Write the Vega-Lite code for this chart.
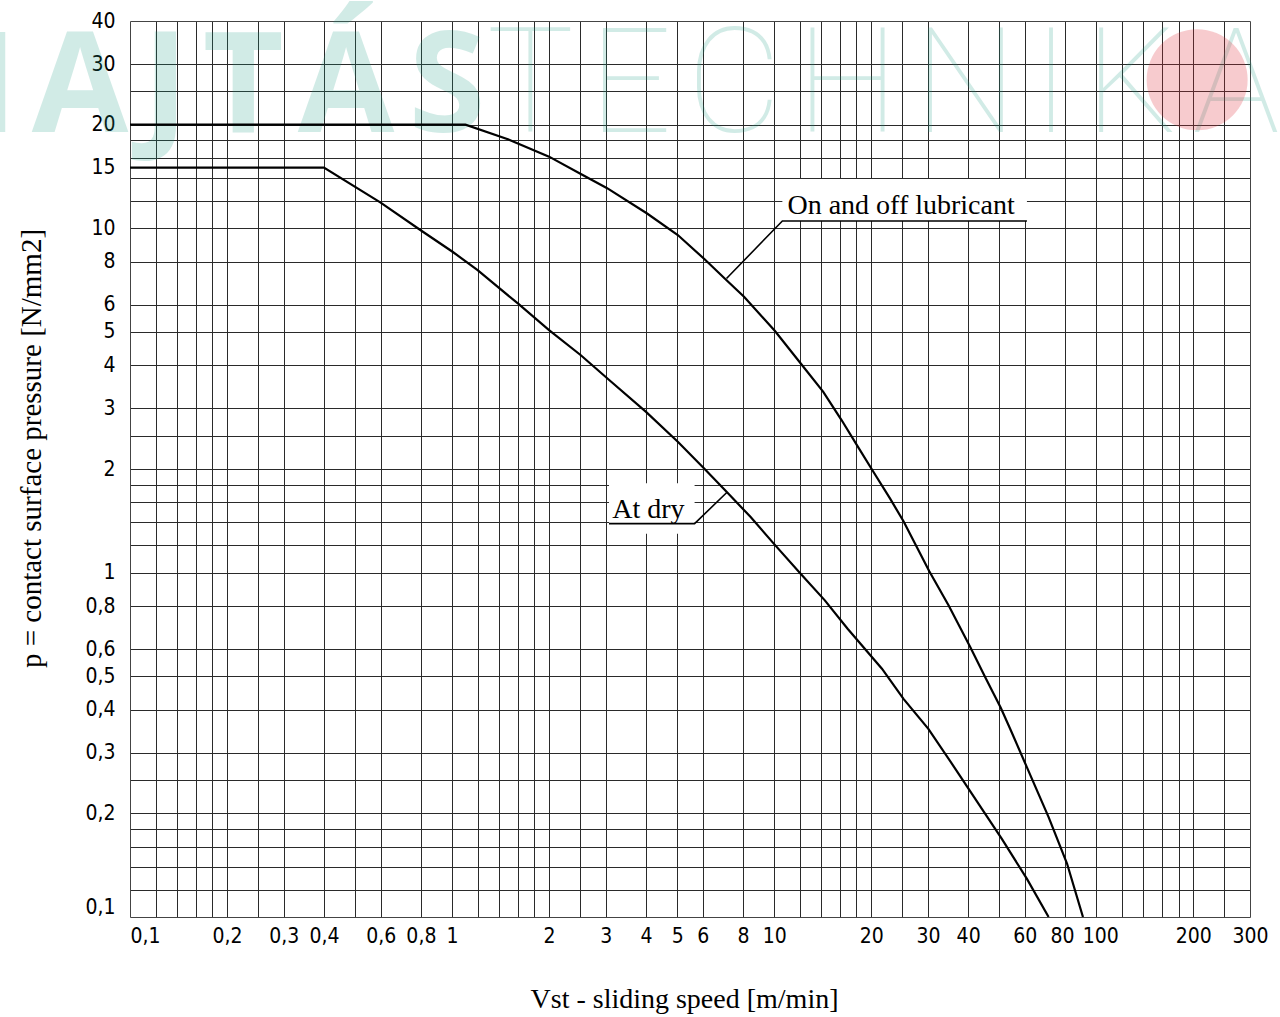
{
  "$schema": "https://vega.github.io/schema/vega-lite/v6.json",
  "width": 1120,
  "height": 896,
  "autosize": "none",
  "padding": {"left": 130, "top": 21, "right": 30, "bottom": 100},
  "background": "white",
  "config": {
    "view": {"stroke": null},
    "axis": {
      "labelFont": "DejaVu Sans Condensed",
      "labelFontSize": 21,
      "labelColor": "black",
      "titleFont": "Liberation Serif",
      "titleFontWeight": "normal",
      "titleColor": "black",
      "domainColor": "#444",
      "gridColor": "#2a2a2a",
      "gridWidth": 1,
      "gridOpacity": 1
    }
  },
  "layer": [
    {
      "data": {"values": [{"t": "H\u200aA\u200aJ\u200aT\u200aÁ\u200aS", "v": 1.27, "p": 19.1}]},
      "mark": {"type": "text", "font": "Open Sans", "fontWeight": "bold", "fontSize": 140, "align": "right", "baseline": "alphabetic", "color": "#1f9e86", "opacity": 0.2},
      "encoding": {
        "x": {"field": "v", "type": "quantitative", "scale": {"type": "log", "domain": [0.1, 300], "nice": false}, "axis": null},
        "y": {"field": "p", "type": "quantitative", "scale": {"type": "log", "domain": [0.1, 40], "nice": false}, "axis": null},
        "text": {"field": "t"}
      }
    },
    {
      "data": {"values": [{"t": "T\u200aE\u200aC\u200aH\u200aN\u200aI\u200aK\u200aA", "v": 1.28, "p": 19.1}]},
      "mark": {"type": "text", "font": "Roboto", "fontWeight": 100, "fontSize": 146, "align": "left", "baseline": "alphabetic", "color": "#1f9e86", "opacity": 0.2},
      "encoding": {
        "x": {"field": "v", "type": "quantitative", "scale": {"type": "log", "domain": [0.1, 300], "nice": false}, "axis": null},
        "y": {"field": "p", "type": "quantitative", "scale": {"type": "log", "domain": [0.1, 40], "nice": false}, "axis": null},
        "text": {"field": "t"}
      }
    },
    {
      "data": {"values": [{"v": 205.6, "p": 27.0}]},
      "mark": {"type": "point", "shape": "circle", "filled": true, "size": 10200, "color": "#e0303a", "opacity": 0.25},
      "encoding": {
        "x": {"field": "v", "type": "quantitative", "scale": {"type": "log", "domain": [0.1, 300], "nice": false}, "axis": null},
        "y": {"field": "p", "type": "quantitative", "scale": {"type": "log", "domain": [0.1, 40], "nice": false}, "axis": null}
      }
    },
    {
      "data": {"values": [
        {"s": "On and off lubricant", "v": 0.1, "p": 20},
        {"s": "On and off lubricant", "v": 1.1, "p": 20},
        {"s": "On and off lubricant", "v": 1.49, "p": 18.15},
        {"s": "On and off lubricant", "v": 2.0, "p": 16.15},
        {"s": "On and off lubricant", "v": 2.51, "p": 14.38},
        {"s": "On and off lubricant", "v": 3.02, "p": 13.1},
        {"s": "On and off lubricant", "v": 4.02, "p": 11.06},
        {"s": "On and off lubricant", "v": 5.02, "p": 9.56},
        {"s": "On and off lubricant", "v": 6.08, "p": 8.13},
        {"s": "On and off lubricant", "v": 7.1, "p": 7.08},
        {"s": "On and off lubricant", "v": 8.06, "p": 6.33},
        {"s": "On and off lubricant", "v": 10.04, "p": 5.04},
        {"s": "On and off lubricant", "v": 12.09, "p": 4.05},
        {"s": "On and off lubricant", "v": 14.2, "p": 3.35},
        {"s": "On and off lubricant", "v": 16.2, "p": 2.77},
        {"s": "On and off lubricant", "v": 18.2, "p": 2.32},
        {"s": "On and off lubricant", "v": 20.2, "p": 1.98},
        {"s": "On and off lubricant", "v": 22.9, "p": 1.64},
        {"s": "On and off lubricant", "v": 25.2, "p": 1.41},
        {"s": "On and off lubricant", "v": 30.3, "p": 1.01},
        {"s": "On and off lubricant", "v": 34.8, "p": 0.803},
        {"s": "On and off lubricant", "v": 40.6, "p": 0.608},
        {"s": "On and off lubricant", "v": 45.2, "p": 0.497},
        {"s": "On and off lubricant", "v": 50.5, "p": 0.405},
        {"s": "On and off lubricant", "v": 54, "p": 0.352},
        {"s": "On and off lubricant", "v": 60.9, "p": 0.272},
        {"s": "On and off lubricant", "v": 71.1, "p": 0.195},
        {"s": "On and off lubricant", "v": 81.1, "p": 0.143},
        {"s": "On and off lubricant", "v": 90.9, "p": 0.1},
        {"s": "At dry", "v": 0.1, "p": 15},
        {"s": "At dry", "v": 0.4, "p": 15},
        {"s": "At dry", "v": 0.6, "p": 11.87},
        {"s": "At dry", "v": 0.803, "p": 9.84},
        {"s": "At dry", "v": 1.003, "p": 8.55},
        {"s": "At dry", "v": 1.2, "p": 7.56},
        {"s": "At dry", "v": 1.6, "p": 6.05},
        {"s": "At dry", "v": 2.0, "p": 5.06},
        {"s": "At dry", "v": 2.51, "p": 4.28},
        {"s": "At dry", "v": 3.08, "p": 3.62},
        {"s": "At dry", "v": 4.0, "p": 2.93},
        {"s": "At dry", "v": 5.02, "p": 2.4},
        {"s": "At dry", "v": 6.05, "p": 2.01},
        {"s": "At dry", "v": 7.15, "p": 1.71},
        {"s": "At dry", "v": 8.45, "p": 1.45},
        {"s": "At dry", "v": 10.0, "p": 1.21},
        {"s": "At dry", "v": 12.0, "p": 1.0},
        {"s": "At dry", "v": 14.36, "p": 0.831},
        {"s": "At dry", "v": 16.9, "p": 0.687},
        {"s": "At dry", "v": 21.6, "p": 0.526},
        {"s": "At dry", "v": 25.2, "p": 0.43},
        {"s": "At dry", "v": 30.1, "p": 0.352},
        {"s": "At dry", "v": 35.6, "p": 0.279},
        {"s": "At dry", "v": 50.9, "p": 0.1686},
        {"s": "At dry", "v": 60.9, "p": 0.129},
        {"s": "At dry", "v": 71.1, "p": 0.1}
      ]},
      "mark": {"type": "line", "color": "black", "strokeWidth": 2.2, "clip": true},
      "encoding": {
        "x": {"field": "v", "type": "quantitative", "scale": {"type": "log", "domain": [0.1, 300], "nice": false},
          "axis": {"orient": "top", "title": null, "labels": false, "ticks": false, "grid": true, "domain": true,
            "values": [0.12,0.14,0.16,0.18,0.2,0.25,0.3,0.4,0.5,0.6,0.8,1,1.2,1.4,1.6,1.8,2,2.5,3,4,5,6,8,10,12,14,16,18,20,25,30,40,50,60,80,100,120,140,160,180,200,250]}},
        "y": {"field": "p", "type": "quantitative", "scale": {"type": "log", "domain": [0.1, 40], "nice": false},
          "axis": {"orient": "right", "title": null, "labels": false, "ticks": false, "grid": true, "domain": true,
            "values": [0.12,0.14,0.16,0.18,0.2,0.25,0.3,0.4,0.5,0.6,0.8,1,1.2,1.4,1.6,1.8,2,2.5,3,4,5,6,8,10,12,14,16,18,20,25,30]}},
        "detail": {"field": "s"}
      }
    },
    {
      "data": {"values": [
        {"v1": 10.6, "v2": 60.9, "p1": 10.5, "p2": 13.9},
        {"v1": 3.07, "v2": 5.66, "p1": 1.297, "p2": 1.818}
      ]},
      "mark": {"type": "rect", "color": "white"},
      "encoding": {
        "x": {"field": "v1", "type": "quantitative", "scale": {"type": "log", "domain": [0.1, 300], "nice": false},
          "axis": {"orient": "bottom", "grid": false, "ticks": false, "domain": true, "labelPadding": 8,
            "values": [0.1,0.2,0.3,0.4,0.6,0.8,1,2,3,4,5,6,8,10,20,30,40,60,80,100,200,300],
            "labelExpr": "replace(datum.value + '', '.', ',')",
            "labelAlign": {"condition": {"test": "datum.value <= 0.1", "value": "left"}, "value": "center"},
            "labelOffset": {"condition": [{"test": "datum.value == 80", "value": -3}, {"test": "datum.value == 100", "value": 4}], "value": 0},
            "labelOverlap": false,
            "title": "Vst - sliding speed [m/min]", "titleFontSize": 28, "titleX": 554, "titleY": 90, "titleAlign": "center", "titleBaseline": "alphabetic"}},
        "x2": {"field": "v2"},
        "y": {"field": "p1", "type": "quantitative", "scale": {"type": "log", "domain": [0.1, 40], "nice": false},
          "axis": {"orient": "left", "grid": false, "ticks": false, "domain": true, "labelPadding": 15,
            "values": [0.1,0.2,0.3,0.4,0.5,0.6,0.8,1,2,3,4,5,6,8,10,15,20,30,40],
            "labelExpr": "replace(datum.value + '', '.', ',')",
            "labelBaseline": {"condition": {"test": "datum.value <= 0.1", "value": "bottom"}, "value": "middle"},
            "labelOverlap": false,
            "title": "p = contact surface pressure [N/mm2]", "titleFontSize": 29, "titleAngle": -90, "titleX": -90, "titleY": 427, "titleAlign": "center", "titleBaseline": "alphabetic"}},
        "y2": {"field": "p2"}
      }
    },
    {
      "data": {"values": [
        {"g": "lub", "v": 7.11, "p": 7.15},
        {"g": "lub", "v": 10.6, "p": 10.5},
        {"g": "lub", "v": 60.9, "p": 10.5},
        {"g": "dry", "v": 7.15, "p": 1.715},
        {"g": "dry", "v": 5.66, "p": 1.388},
        {"g": "dry", "v": 3.07, "p": 1.388}
      ]},
      "mark": {"type": "line", "color": "black", "strokeWidth": 1.6},
      "encoding": {
        "x": {"field": "v", "type": "quantitative", "scale": {"type": "log", "domain": [0.1, 300], "nice": false}, "axis": null},
        "y": {"field": "p", "type": "quantitative", "scale": {"type": "log", "domain": [0.1, 40], "nice": false}, "axis": null},
        "detail": {"field": "g"}
      }
    },
    {
      "data": {"values": [
        {"t": "On and off lubricant", "v": 10.99, "p": 11.0},
        {"t": "At dry", "v": 3.14, "p": 1.44}
      ]},
      "mark": {"type": "text", "font": "Liberation Serif", "fontSize": 28, "align": "left", "baseline": "alphabetic", "color": "black"},
      "encoding": {
        "x": {"field": "v", "type": "quantitative", "scale": {"type": "log", "domain": [0.1, 300], "nice": false}, "axis": null},
        "y": {"field": "p", "type": "quantitative", "scale": {"type": "log", "domain": [0.1, 40], "nice": false}, "axis": null},
        "text": {"field": "t"}
      }
    }
  ],
  "resolve": {"axis": {"x": "independent", "y": "independent"}}
}
